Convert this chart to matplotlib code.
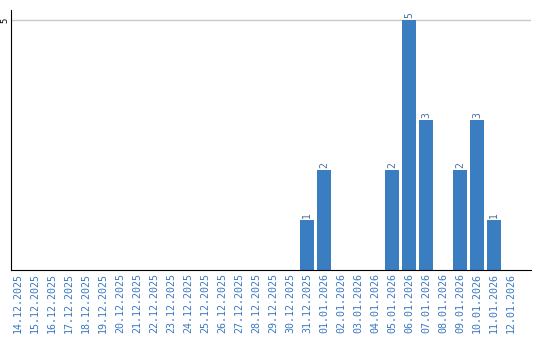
import matplotlib
matplotlib.use("Agg")
import matplotlib.pyplot as plt

dates = ["14.12.2025", "15.12.2025", "16.12.2025", "17.12.2025", "18.12.2025",
         "19.12.2025", "20.12.2025", "21.12.2025", "22.12.2025", "23.12.2025",
         "24.12.2025", "25.12.2025", "26.12.2025", "27.12.2025", "28.12.2025",
         "29.12.2025", "30.12.2025", "31.12.2025", "01.01.2026", "02.01.2026",
         "03.01.2026", "04.01.2026", "05.01.2026", "06.01.2026", "07.01.2026",
         "08.01.2026", "09.01.2026", "10.01.2026", "11.01.2026", "12.01.2026"]
counts = [0, 0, 0, 0, 0, 0, 0, 0, 0, 0,
          0, 0, 0, 0, 0, 0, 0, 1, 2, 0,
          0, 0, 2, 5, 3, 0, 2, 3, 1, 0]

bar_color = "#3b7dc1"
label_color = "#3a78bf"

fig = plt.figure(figsize=(5.4, 3.4), dpi=100)
ax = fig.add_axes([10.5 / 540, 70 / 340, 520.5 / 540, 260 / 340])

x = list(range(len(dates)))
ax.bar(x, counts, width=0.82, color=bar_color, zorder=2)

for i, v in zip(x, counts):
    if v > 0:
        ax.text(i, v + 0.04, str(v), rotation=90, ha="center", va="bottom",
                fontsize=7, family="DejaVu Sans Mono", color="#4a6f98")

# category bands are 17px wide; plot area runs a bit past the last one
ax.set_xlim(-0.44, 30.18)
ax.set_ylim(0, 5.2)
ax.set_yticks([5])
ax.set_yticklabels(["5"], rotation=90, va="center", fontsize=6.5, family="DejaVu Sans Mono")
ax.set_xticks(x)
ax.set_xticklabels(dates, rotation=90, fontsize=7.2, family="DejaVu Sans Mono", color=label_color)
ax.tick_params(axis="x", length=0, pad=2)
ax.tick_params(axis="y", length=0, pad=1)
ax.yaxis.grid(True, color="#c8c8c8", linewidth=1, zorder=0)

for side in ["top", "right"]:
    ax.spines[side].set_visible(False)
ax.spines["left"].set_color("black")
ax.spines["bottom"].set_color("black")

fig.savefig("out.png", dpi=100)
